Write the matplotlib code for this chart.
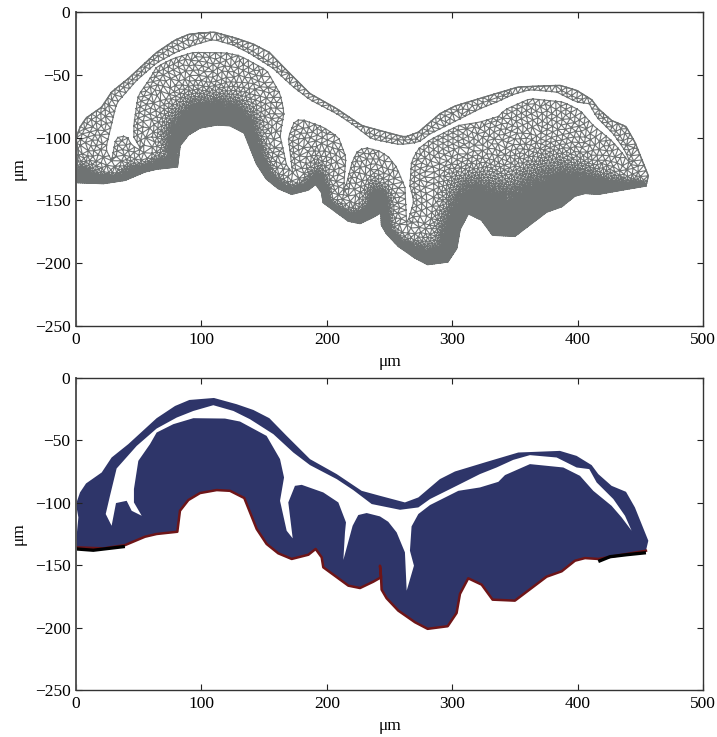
import numpy as np
import matplotlib
matplotlib.use('Agg')
import matplotlib.pyplot as plt
import matplotlib.tri as mtri
from matplotlib.path import Path
from matplotlib.patches import PathPatch

# outlines, in um
top_x = [0.5, 0.5, 1.9, 0, 3.2, 8, 20.5, 28.4, 41.7, 64.3, 79, 90.4, 110, 128.1, 141.4, 154.2, 168, 186.6,
         207.9, 227.8, 242.4, 262.3, 273, 290.2, 302.2, 327.5, 352.7, 385.9, 399.2, 411.2, 416.5, 427.1,
         438.6, 445.7, 456.4, 454.5]
top_y = [-135.7, -126.4, -111.7, -101, -91.7, -84.5, -75.7, -63.7, -53, -32.2, -22.4, -17.6, -16, -21, -25.6,
         -32.2, -46.4, -65, -77, -90.4, -94.4, -99.7, -95.7, -81, -74.9, -67.2, -59.7, -58.4, -62.4, -69.8,
         -77, -86.4, -91.2, -103.7, -130.4, -138.4]
base_x = [454.5, 439.1, 416.5, 405.9, 397.9, 387.3, 375.3, 350, 332.2, 323.5, 312.8, 306.2, 303.5, 296.4, 280.4,
          270.3, 257, 247.7, 243.7, 243.2, 242.4, 243.2, 237.1, 226.5, 217.2, 197.2, 195.9, 191.1, 185.3, 172,
          161.3, 152, 144.1, 134.2, 122.8, 112.2, 98.9, 89.6, 82.9, 80.8, 64.3, 55, 39.1, 21.8, 0.5]
base_y = [-138.4, -141, -145, -144.3, -146.4, -154.9, -159.2, -178.4, -177.6, -165.6, -160.5, -173, -188.3,
          -198.9, -201, -195.7, -186.4, -176.5, -169.6, -158.4, -150.4, -159.7, -163.2, -168.3, -166.4, -151.7,
          -143.7, -137, -141.6, -145, -140.5, -133, -121, -96.2, -90.4, -89.8, -92.2, -97.8, -106.4, -123.2,
          -125, -127.2, -133.9, -136.5, -135.7]
gap_x = [28.4, 23.7, 27.1, 32.4, 48.4, 64.3, 80.3, 93.6, 109.5, 125.5, 138.7, 157.4, 173.3, 186.6, 207.9, 221.1,
         235.8, 258.4, 273, 282.3, 303.5, 322.1, 335.4, 348.7, 362, 383.3, 399.2, 409.3, 415.2, 428.5, 437.8,
         443.1, 435.1, 427.1, 412.5, 401.9, 388.6, 362, 342.1, 336.8, 322.1, 304.9, 282.3, 273, 267.6, 266.3,
         269.5, 263.7, 262.3, 255.7, 249, 242.4, 231.8, 225.1, 220.6, 213.2, 214.5, 215.3, 209.2, 197.2, 180,
         174.6, 169.3, 172.8, 168, 162.7, 165.9, 162.7, 152, 130.8, 118.8, 93.6, 77.6, 64.3, 59, 49.7, 46.2,
         46.2, 52.4, 44.4, 40.4, 31.9]
gap_y = [-118.4, -109, -94.4, -72.5, -54.4, -40.5, -31.7, -26.4, -21.8, -26.4, -33, -45, -59.7, -69.8, -81, -89.8,
         -101, -105.6, -103.7, -97, -86.4, -77, -71.7, -65.6, -61.8, -63.7, -71.7, -73, -83.7, -97, -110.4,
         -122.4, -111.7, -102.4, -90.4, -78.4, -71.7, -69, -77.8, -83.2, -87.7, -90.4, -101.8, -109, -118.9,
         -138.4, -150.4, -170.4, -139.7, -123.7, -115.2, -110.9, -108.2, -109.8, -118.4, -145.8, -123.7, -115.7,
         -99.7, -91.7, -85.6, -86.4, -99.7, -128.5, -122.4, -98.4, -79.7, -65, -46.4, -34.9, -32.5, -32.2, -37,
         -43.7, -53, -66.4, -89, -99.7, -110.4, -106.4, -98.4, -100.2]
# thick black bits under the two ends of the base
black_left_x = [0.5, 13.8, 39]
black_left_y = [-137, -138, -135]
black_right_x = [416.5, 425.8, 439, 454.5]
black_right_y = [-147, -143.2, -141.6, -140]

xticks = [0, 100, 200, 300, 400, 500]
yticks = [0, -50, -100, -150, -200, -250]

GREY = '#6f7373'
NAVY = '#2e3569'
RED = '#6e1518'

plt.rcParams['font.family'] = ['Liberation Serif', 'DejaVu Serif']
plt.rcParams['font.size'] = 12.5


def resample(xs, ys, step):
    pts = []
    for i in range(len(xs) - 1):
        n = max(int(np.hypot(xs[i + 1] - xs[i], ys[i + 1] - ys[i]) / step), 1)
        for k in range(n):
            pts.append((xs[i] + (xs[i + 1] - xs[i]) * k / n, ys[i] + (ys[i + 1] - ys[i]) * k / n))
    pts.append((xs[-1], ys[-1]))
    return np.array(pts)


base_pts = resample(base_x, base_y, 1.5)
upper_pts = np.vstack([resample(top_x[3:-1], top_y[3:-1], 1.5),
                       resample(gap_x + gap_x[:1], gap_y + gap_y[:1], 1.5)])


def min_dist(p, ref):
    out = np.zeros(len(p))
    for s in range(0, len(p), 4000):
        c = p[s:s + 4000]
        d = (c[:, 0, None] - ref[:, 0]) ** 2 + (c[:, 1, None] - ref[:, 1]) ** 2
        out[s:s + 4000] = np.sqrt(d.min(axis=1))
    return out


def mesh_size(p):
    # element size grows from the base up to the free surface
    db = min_dist(p, base_pts)
    dt = min_dist(p, upper_pts)
    t = db / (db + dt + 1e-6)
    s = np.clip((t - 0.2) / 0.5, 0, 1)
    return 1.35 + 3.0 * s * s * (3 - 2 * s)


def walk(xs, ys):
    # boundary nodes, spaced by the local element size
    dense = resample(xs, ys, 0.5)
    h = mesh_size(dense)
    keep = [0]
    run = 0.0
    seg = np.hypot(*np.diff(dense, axis=0).T)
    for i in range(1, len(dense)):
        run += seg[i - 1]
        if run >= h[i]:
            keep.append(i)
            run = 0.0
    return dense[keep]


def build_mesh():
    body_x = top_x + base_x[1:]
    body_y = top_y + base_y[1:]
    body = Path(np.c_[body_x, body_y])
    gap = Path(np.c_[gap_x, gap_y])

    edge = np.vstack([walk(top_x, top_y), walk(base_x, base_y), walk(gap_x + gap_x[:1], gap_y + gap_y[:1])])

    # graded interior nodes, picked from a fine lattice, smallest elements first
    cell = 0.5
    gx = np.arange(-5, 465, cell)
    gy = np.arange(-206, -10, cell)
    mx, my = np.meshgrid(gx, gy, indexing='ij')
    mx = mx + 0.5 * cell * (np.arange(len(gy)) % 2)
    cand = np.c_[mx.ravel(), my.ravel()]
    ok = body.contains_points(cand) & ~gap.contains_points(cand)
    idx = np.where(ok)[0]
    h = mesh_size(cand[idx])
    order = np.argsort(h, kind='stable')

    blocked = np.zeros(mx.shape, dtype=bool)

    def block(i, j, r):
        n = int(r / cell) + 1
        ii, jj = np.ogrid[-n:n + 1, -n:n + 1]
        disk = (ii * cell) ** 2 + (jj * cell) ** 2 <= r * r
        i0, i1 = max(i - n, 0), min(i + n + 1, blocked.shape[0])
        j0, j1 = max(j - n, 0), min(j + n + 1, blocked.shape[1])
        blocked[i0:i1, j0:j1] |= disk[i0 - i + n:i1 - i + n, j0 - j + n:j1 - j + n]

    eh = mesh_size(edge)
    for (x, y), r in zip(edge, eh):
        block(int(round((x + 5) / cell)), int(round((y + 206) / cell)), 0.75 * r)

    nodes = []
    nx, ny = mx.shape
    for o in order:
        c = idx[o]
        i, j = np.unravel_index(c, (nx, ny))
        if blocked[i, j]:
            continue
        nodes.append(cand[c])
        block(i, j, h[o])

    pts = np.vstack([edge, np.array(nodes)])
    tri = mtri.Triangulation(pts[:, 0], pts[:, 1])
    cen = pts[tri.triangles].mean(axis=1)
    tri.set_mask(~body.contains_points(cen) | gap.contains_points(cen))
    return tri


fig = plt.figure(figsize=(7.17, 7.37), dpi=100)
ax1 = fig.add_axes([76 / 717, 1 - 326 / 737, 627 / 717, 314 / 737])
ax2 = fig.add_axes([76 / 717, 1 - 690 / 737, 627 / 717, 312 / 737])

# top: mesh
tri = build_mesh()
ax1.triplot(tri, color=GREY, lw=0.8)
ax1.plot(base_x, base_y, color=GREY, lw=1.2)
ax1.plot(top_x, top_y, color=GREY, lw=1.0)

# bottom: filled domain with boundary lines, gap wound the other way so it stays a hole
out_xy = np.c_[top_x + base_x[1:], top_y + base_y[1:]]
gap_xy = np.c_[gap_x, gap_y]
sign_out = np.sum(out_xy[:, 0] * np.roll(out_xy[:, 1], -1) - np.roll(out_xy[:, 0], -1) * out_xy[:, 1])
sign_gap = np.sum(gap_xy[:, 0] * np.roll(gap_xy[:, 1], -1) - np.roll(gap_xy[:, 0], -1) * gap_xy[:, 1])
if sign_out * sign_gap > 0:
    gap_xy = gap_xy[::-1]
verts = np.vstack([out_xy, out_xy[:1], gap_xy, gap_xy[:1]])
codes = ([Path.MOVETO] + [Path.LINETO] * (len(out_xy) - 1) + [Path.CLOSEPOLY]
         + [Path.MOVETO] + [Path.LINETO] * (len(gap_xy) - 1) + [Path.CLOSEPOLY])
ax2.add_patch(PathPatch(Path(verts, codes), fc=NAVY, ec='none', lw=0))
ax2.plot(base_x, base_y, color=RED, lw=1.8)
ax2.plot(black_left_x, black_left_y, color='black', lw=2.4, solid_capstyle='butt')
ax2.plot(black_right_x, black_right_y, color='black', lw=2.4, solid_capstyle='butt')

for ax in (ax1, ax2):
    ax.set_xlim(0, 500)
    ax.set_ylim(-250, 0)
    ax.set_xticks(xticks)
    ax.set_yticks(yticks)
    ax.tick_params(direction='in', top=True, right=True, length=4, width=0.8, pad=4, color='#222222')
    ax.set_xlabel('\u03bcm', labelpad=4.5)
    ax.set_ylabel('\u03bcm', labelpad=6)
    for s in ax.spines.values():
        s.set_linewidth(1.0)
        s.set_color('#333333')
    ax.spines['left'].set_linewidth(1.4)
    ax.spines['left'].set_color('#555555')

fig.savefig('out.png', dpi=100)
